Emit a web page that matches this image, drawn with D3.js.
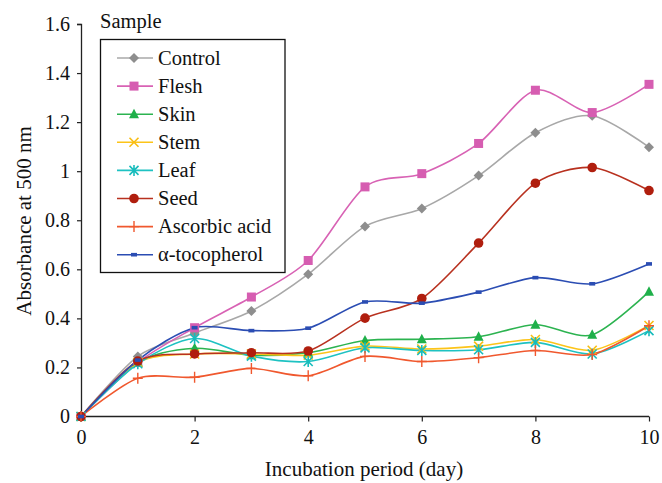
<!DOCTYPE html>
<html>
<head>
<meta charset="utf-8">
<script src="https://cdn.jsdelivr.net/npm/d3@7"></script>
<style>
  body { margin: 0; background: #fff; }
  svg text { font-family: "Liberation Serif", "DejaVu Serif", "Noto Serif", "Times New Roman", Times, serif; fill: #111; }
</style>
</head>
<body>
<svg width="662" height="483"></svg>
<script>
let days = [0, 1, 2, 3, 4, 5, 6, 7, 8, 9, 10]
let control = [0, 0.245, 0.34, 0.43, 0.58, 0.775, 0.848, 0.982, 1.157, 1.226, 1.098]
let flesh = [0, 0.22, 0.362, 0.487, 0.636, 0.936, 0.99, 1.113, 1.33, 1.239, 1.354]
let skin = [0, 0.22, 0.278, 0.25, 0.26, 0.31, 0.315, 0.325, 0.374, 0.333, 0.509]
let stem = [0, 0.22, 0.255, 0.255, 0.25, 0.287, 0.275, 0.287, 0.314, 0.27, 0.371]
let leaf = [0, 0.215, 0.318, 0.246, 0.224, 0.28, 0.269, 0.272, 0.302, 0.255, 0.35]
let seed = [0, 0.226, 0.255, 0.26, 0.267, 0.401, 0.481, 0.707, 0.951, 1.015, 0.921]
let ascorbic = [0, 0.156, 0.16, 0.196, 0.166, 0.245, 0.224, 0.24, 0.269, 0.253, 0.37]
let tocopherol = [0, 0.23, 0.362, 0.35, 0.36, 0.467, 0.462, 0.507, 0.566, 0.541, 0.622]
let y_ticks = [0, 0.2, 0.4, 0.6, 0.8, 1, 1.2, 1.4, 1.6]
let x_ticks = [0, 2, 4, 6, 8, 10]

let series = [
  {name: "Control", values: control, line: "#a8a8a8", fill: "#8e8e8e", marker: "diamond"},
  {name: "Flesh", values: flesh, line: "#d862b4", fill: "#d65db1", marker: "square"},
  {name: "Skin", values: skin, line: "#2cb350", fill: "#1fb04a", marker: "triangle"},
  {name: "Stem", values: stem, line: "#fcc419", fill: "#f9bd12", marker: "x"},
  {name: "Leaf", values: leaf, line: "#1ec2c2", fill: "#17bcbc", marker: "asterisk"},
  {name: "Seed", values: seed, line: "#b8311f", fill: "#b01e0e", marker: "circle"},
  {name: "Ascorbic acid", values: ascorbic, line: "#f0582e", fill: "#f0582e", marker: "plus"},
  {name: "\u03b1-tocopherol", values: tocopherol, line: "#2b4db3", fill: "#2b4db3", marker: "dash"}
]

var svg = d3.select("svg")
var x = d3.scaleLinear().domain([0, 10]).range([81, 649])
var y = d3.scaleLinear().domain([0, 1.6]).range([416.5, 24])

// axes
var xAxis = svg.append("g").attr("transform", "translate(0,416.5)")
  .call(d3.axisBottom(x).tickValues(x_ticks).tickSize(5).tickPadding(8).tickFormat(d3.format("d")))
var yAxis = svg.append("g").attr("transform", "translate(81,0)")
  .call(d3.axisLeft(y).tickValues(y_ticks).tickSize(4).tickPadding(7).tickFormat(d => d === 0 || d === 1 ? d3.format("d")(d) : d3.format(".1f")(d)))
svg.selectAll("g").attr("font-family", null)
svg.selectAll(".domain").attr("stroke", "#222").attr("stroke-width", 1.3)
svg.selectAll(".tick line").attr("stroke", "#222").attr("stroke-width", 1.2)
svg.selectAll(".tick text").attr("font-size", 20).attr("fill", "#111")
xAxis.selectAll(".domain").attr("d", "M81,0H649")

svg.append("text").attr("x", 364).attr("y", 476).attr("text-anchor", "middle")
  .attr("font-size", 21).text("Incubation period (day)")
svg.append("text").attr("transform", "translate(31,221) rotate(-90)").attr("text-anchor", "middle")
  .attr("font-size", 21).text("Absorbance at 500 nm")

function drawMarker(g, type, cx, cy, s) {
  if (type === "diamond") {
    g.append("path").attr("d", `M${cx},${cy-5}L${cx+5},${cy}L${cx},${cy+5}L${cx-5},${cy}Z`).attr("fill", s.fill)
  } else if (type === "square") {
    g.append("rect").attr("x", cx - 4.5).attr("y", cy - 4.5).attr("width", 9).attr("height", 9).attr("fill", s.fill)
  } else if (type === "triangle") {
    g.append("path").attr("d", `M${cx},${cy-5.5}L${cx+5},${cy+4}L${cx-5},${cy+4}Z`).attr("fill", s.fill)
  } else if (type === "circle") {
    g.append("circle").attr("cx", cx).attr("cy", cy).attr("r", 4.8).attr("fill", s.fill)
  } else if (type === "x") {
    g.append("path").attr("d", `M${cx-4.5},${cy-4.5}L${cx+4.5},${cy+4.5}M${cx+4.5},${cy-4.5}L${cx-4.5},${cy+4.5}`)
      .attr("stroke", s.fill).attr("stroke-width", 1.6)
  } else if (type === "asterisk") {
    g.append("path").attr("d", `M${cx-4.5},${cy-4.5}L${cx+4.5},${cy+4.5}M${cx+4.5},${cy-4.5}L${cx-4.5},${cy+4.5}M${cx},${cy-5.5}L${cx},${cy+5.5}`)
      .attr("stroke", s.fill).attr("stroke-width", 1.6)
  } else if (type === "plus") {
    g.append("path").attr("d", `M${cx-5},${cy}L${cx+5},${cy}M${cx},${cy-5.5}L${cx},${cy+5.5}`)
      .attr("stroke", s.fill).attr("stroke-width", 1.4)
  } else if (type === "dash") {
    g.append("rect").attr("x", cx - 3).attr("y", cy - 1.8).attr("width", 6).attr("height", 3.6).attr("fill", s.fill)
  }
}

var line = d3.line().x((d, i) => x(days[i])).y(d => y(d)).curve(d3.curveCardinal.tension(0.15))

series.forEach(s => {
  svg.append("path").datum(s.values).attr("d", line)
    .attr("fill", "none").attr("stroke", s.line).attr("stroke-width", 1.6)
})
series.forEach(s => {
  var g = svg.append("g")
  s.values.forEach((v, i) => drawMarker(g, s.marker, x(days[i]), y(v), s))
})

// legend
svg.append("text").attr("x", 100).attr("y", 28).attr("font-size", 20.5).text("Sample")
svg.append("rect").attr("x", 100.5).attr("y", 39.5).attr("width", 184.5).attr("height", 233)
  .attr("fill", "#fff").attr("stroke", "#111").attr("stroke-width", 1.3)
series.forEach((s, i) => {
  var ly = 58 + i * 28.1
  svg.append("line").attr("x1", 117).attr("x2", 153).attr("y1", ly).attr("y2", ly)
    .attr("stroke", s.line).attr("stroke-width", 1.6)
  drawMarker(svg.append("g"), s.marker, 134, ly, s)
  svg.append("text").attr("x", 158).attr("y", ly + 6.5).attr("font-size", 20.5).text(s.name)
})
</script>
</body>
</html>
